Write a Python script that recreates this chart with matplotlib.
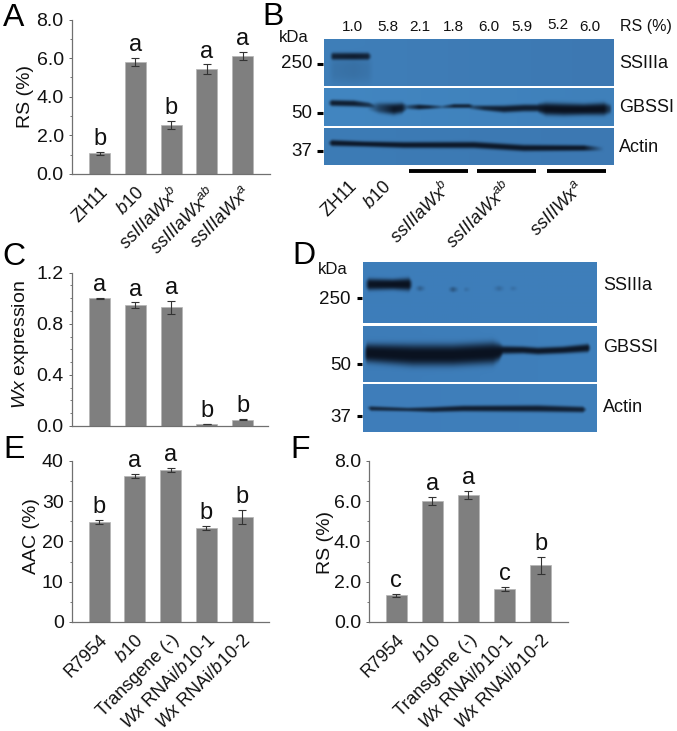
import numpy as np
import matplotlib
matplotlib.use("Agg")
import matplotlib.pyplot as plt
from matplotlib.colors import to_rgb

plt.rcParams['font.family'] = ['Liberation Sans', 'DejaVu Sans']
plt.rcParams['mathtext.fontset'] = 'custom'
plt.rcParams['mathtext.rm'] = 'Liberation Sans'
plt.rcParams['mathtext.it'] = 'Liberation Sans:italic'
plt.rcParams['mathtext.bf'] = 'Liberation Sans:bold'

W, H = 677, 731

# ---- bar chart data
a_labels = ['ZH11', r'$\mathit{b10}$', r'$\mathit{ssIIIaWx}^{\mathit{b}}$',
            r'$\mathit{ssIIIaWx}^{\mathit{ab}}$', r'$\mathit{ssIIIaWx}^{\mathit{a}}$']
a_values = [1.07, 5.80, 2.54, 5.42, 6.12]
a_errors = [0.08, 0.20, 0.22, 0.25, 0.22]
a_groups = ['b', 'a', 'b', 'a', 'a']

c_values = [1.00, 0.945, 0.93, 0.015, 0.05]
c_errors = [0.003, 0.022, 0.05, 0.003, 0.003]
c_groups = ['a', 'a', 'a', 'b', 'b']

ef_labels = ['R7954', r'$\mathit{b10}$', 'Transgene (-)',
             r'$\mathit{Wx}$ RNAi/$\mathit{b10}$-1', r'$\mathit{Wx}$ RNAi/$\mathit{b10}$-2']
e_values = [24.8, 36.2, 37.7, 23.3, 26.1]
e_errors = [0.6, 0.5, 0.6, 0.5, 1.7]
e_groups = ['b', 'a', 'a', 'b', 'b']

f_values = [1.32, 6.00, 6.28, 1.62, 2.82]
f_errors = [0.06, 0.18, 0.20, 0.10, 0.42]
f_groups = ['c', 'a', 'a', 'c', 'b']

# ---- blot annotation data
b_rs = ['1.0', '5.8', '2.1', '1.8', '6.0', '5.9', '5.2', '6.0']
b_lanes = ['ZH11', r'$\mathit{b10}$', r'$\mathit{ssIIIaWx}^{\mathit{b}}$',
           r'$\mathit{ssIIIaWx}^{\mathit{ab}}$', r'$\mathit{ssIIIWx}^{\mathit{a}}$']
blot_names = ['SSIIIa', 'GBSSI', 'Actin']
b_kda = ['250', '50', '37']

# ---- blot band profiles: x, centre, half-thickness, darkness
b1_bands = [([6, 9, 30, 44, 48], [17, 17, 17, 17, 17], [3, 3.5, 3.5, 3.5, 2], [0, .85, .9, .85, 0]),
            ([4, 10, 30, 44, 50], [30, 30, 30, 30, 30], [13, 13, 13, 13, 13], [0, .1, .13, .09, 0])]
b2_bands = [([4, 8, 30, 45, 52], [15, 15, 15.5, 17, 19], [2, 3, 3, 2.5, 2], [0, .9, .9, .7, .4]),
            ([44, 55, 70, 78, 84], [19, 20, 21, 20, 19], [3, 5, 5.5, 5, 2], [.1, .55, .95, .9, .2]),
            ([78, 95, 105, 118, 130, 145, 150], [19, 19, 19, 19, 18, 18, 19], [2, 2.5, 2, 1.5, 2, 2, 2],
             [.2, .9, .8, .3, .85, .85, .4]),
            ([146, 160, 180, 200, 216], [19, 20, 21, 20, 20], [2, 2.5, 3.5, 3.5, 3.5], [.4, .8, .9, .9, .9]),
            ([214, 222, 240, 260, 280, 287], [20, 21, 21.5, 21.5, 21, 21], [4, 6, 6, 5.5, 6, 4], [.9, 1, 1, 1, 1, .5])]
b3_bands = [([4, 8, 40, 80, 150, 200, 260, 280], [15, 15, 16, 17, 17, 20, 20, 21],
             [1.5, 3, 2.7, 3, 3.2, 3.2, 2.8, 2], [0, .95, .95, .95, .95, .95, .95, 0])]
d1_bands = [([2, 6, 30, 46, 50], [23, 23, 23, 23, 23], [4, 5.5, 5, 6, 3], [0, .98, 1, 1, 0]),
            ([52, 57, 63], [27, 27, 27], [2, 2.5, 2], [0, .3, 0]),
            ([85, 90, 96, 100, 103, 108], [28, 28, 28, 28, 28, 28], [2, 2.5, 2, 2, 2, 2], [0, .4, 0, 0, .15, 0]),
            ([130, 136, 142, 146, 150, 155], [27, 27, 27, 27, 27, 27], [2, 2.5, 2, 2, 2, 2], [0, .2, 0, 0, .15, 0])]
d2_bands = [([1, 4, 50, 90, 130, 136, 140], [28, 27, 29, 29, 27, 26, 24], [5, 9, 10.5, 10.5, 10.5, 8, 4], [0, 1, 1, 1, 1, 1, .95]),
            ([136, 160, 175, 200, 225, 228], [24, 24, 25, 24, 22, 22], [4, 3.5, 3.5, 3.5, 4, 2], [.95, .95, .95, .95, .95, 0])]
d3_bands = [([4, 8, 45, 70, 100, 175, 220, 224], [24, 25, 26, 26, 25, 25, 26, 26],
             [1, 2.2, 1.8, 2.5, 2.8, 3.2, 2.8, 1], [0, .8, .75, .85, .9, .9, .85, 0])]


def fig_axes(left, top, right, bottom):
    return fig.add_axes([left / W, 1 - bottom / H, (right - left) / W, (bottom - top) / H])


def bar_panel(left, top, right, bottom, first, step, values, errors, groups, ymax, major, minor, fmt,
              ylabel, ylab_x, ylab_y, labels=None):
    ax = fig_axes(left, top, right, bottom)
    x = np.arange(len(values))
    ax.bar(x, values, width=21 / step, color='#7f7f7f', edgecolor='#b4b4b4', linewidth=0.5, zorder=2)
    ax.errorbar(x, values, yerr=errors, fmt='none', ecolor='#333333', elinewidth=0.8, capsize=3.2,
                capthick=0.8, zorder=3)
    ax.set_xlim(-(first - left) / step, (right - first) / step)
    ax.set_ylim(0, ymax)
    for s in ['top', 'right']:
        ax.spines[s].set_visible(False)
    for s in ['left', 'bottom']:
        ax.spines[s].set_color('#707070')
        ax.spines[s].set_linewidth(0.9)
    ax.set_yticks(np.arange(0, ymax + major / 2, major))
    ax.set_yticks(np.arange(0, ymax + minor / 2, minor), minor=True)
    ax.set_yticklabels([fmt % v for v in np.arange(0, ymax + major / 2, major)], fontsize=14, color='#111111')
    ax.tick_params(axis='y', which='major', length=2.5, width=0.7, color='#666666', pad=3.5)
    ax.tick_params(axis='y', which='minor', length=1.5, width=0.7, color='#777777')
    if labels is None:
        ax.set_xticks([])
    else:
        ax.set_xticks(x)
        ax.set_xticklabels(labels, rotation=45, ha='right', rotation_mode='anchor', fontsize=13,
                           color='#111111')
        ax.tick_params(axis='x', length=0, pad=7)
    for i, (v, e, g) in enumerate(zip(values, errors, groups)):
        ax.annotate(g, (i, v + e), xytext=(0, 5), textcoords='offset points', ha='center', va='baseline',
                    fontsize=17, color='#111111', annotation_clip=False)
    over.text(ylab_x, ylab_y, ylabel, rotation=90, ha='center', va='center', fontsize=14, color='#111111')
    return ax


def smooth(img, n=2):
    kernel = np.ones(2 * n + 1) / (2 * n + 1)
    pad = np.pad(img, n, mode='edge')
    pad = np.apply_along_axis(lambda m: np.convolve(m, kernel, mode='same'), 0, pad)
    pad = np.apply_along_axis(lambda m: np.convolve(m, kernel, mode='same'), 1, pad)
    return pad[n:-n, n:-n]


def blot(left, top, right, bottom, bands, base, shade):
    ax = fig_axes(left, top, right, bottom)
    w, h = int(right - left) * 2, int(bottom - top) * 2
    xs = (np.arange(w) + .5) / 2
    ys = (np.arange(h) + .5) / 2
    density = np.zeros((h, w))
    for bx, bc, bh, bd in bands:
        c = np.interp(xs, bx, bc)
        t = np.interp(xs, bx, bh)
        d = np.interp(xs, bx, bd, left=0, right=0)
        density = np.maximum(density, d * np.exp(-np.abs((ys[:, None] - c) / t) ** 3))
    density = smooth(density)
    b0 = np.array(to_rgb(base))
    b1 = np.array(to_rgb(shade))
    g = (xs / xs.max())[None, :, None]
    bg = b0 * (1 - g) + b1 * g
    dark = np.array(to_rgb('#0a1220'))
    img = bg * (1 - density[..., None]) + dark * density[..., None]
    ax.imshow(img, extent=(0, right - left, bottom - top, 0), aspect='auto', interpolation='bilinear')
    ax.axis('off')


fig = plt.figure(figsize=(W / 100, H / 100), dpi=100)
over = fig.add_axes([0, 0, 1, 1], zorder=10)
over.set_xlim(0, W)
over.set_ylim(H, 0)
over.axis('off')
over.patch.set_alpha(0)

bar_panel(72, 19.5, 270, 174, 99.7, 35.7, a_values, a_errors, a_groups, 8, 2, 1, '%.1f', 'RS (%)', 25, 96, a_labels)
bar_panel(72, 272.7, 268, 426, 99.7, 35.7, c_values, c_errors, c_groups, 1.2, 0.4, 0.1, '%.1f',
          r'$\mathit{Wx}$ expression', 21, 345)
bar_panel(72, 460.7, 269, 622, 99, 35.8, e_values, e_errors, e_groups, 40, 10, 5, '%d', 'AAC (%)', 31, 536, ef_labels)
bar_panel(369.3, 460.7, 567.7, 622, 396, 36.2, f_values, f_errors, f_groups, 8, 2, 1, '%.1f', 'RS (%)', 326, 543, ef_labels)

# blots
blot(324, 39.3, 614, 86, b1_bands, '#3f7fb9', '#3d78b2')
blot(324, 88, 614, 126, b2_bands, '#4286c1', '#3f80ba')
blot(324, 128, 614, 165, b3_bands, '#3d7cb6', '#3c78b2')
blot(363, 262, 597, 323.3, d1_bands, '#3d7dba', '#3f7fba')
blot(363, 325.7, 597, 381.7, d2_bands, '#3d7cb8', '#3f80bc')
blot(363, 383.7, 597, 432, d3_bands, '#3e7dba', '#4080bb')

TXT = '#111111'
for x, y, s in zip([352, 388, 420, 453, 489, 522, 558, 590], [27, 27, 27, 27, 27, 27, 25, 27], b_rs):
    over.text(x, y, s, ha='center', va='center', fontsize=11, color=TXT)
over.text(620, 26, 'RS (%)', ha='left', va='center', fontsize=11.5, color=TXT)
over.text(279, 37, 'kDa', ha='left', va='center', fontsize=12, color=TXT)
for y, s in zip([64, 113, 151], b_kda):
    over.text(312, y, s, ha='right', va='center', fontsize=13.5, color=TXT)
    over.plot([317, 323], [y, y], color='black', lw=2.2, solid_capstyle='butt')
for y, s in zip([63, 107, 148], blot_names):
    over.text(619, y, s, ha='left', va='center', fontsize=13, color=TXT)
for x0, x1 in [(409, 468), (477, 536), (547, 606)]:
    over.plot([x0, x1], [171, 171], color='black', lw=2.8, solid_capstyle='butt')
for x, s in zip([348, 383, 442, 503, 575], b_lanes):
    over.text(x, 178, s, rotation=45, ha='right', va='top', rotation_mode='anchor', fontsize=13, color=TXT)

over.text(318, 270, 'kDa', ha='left', va='center', fontsize=12, color=TXT)
for y, s in zip([299, 365, 417], b_kda):
    over.text(351, y, s, ha='right', va='center', fontsize=13.5, color=TXT)
    over.plot([357, 362], [y - 1, y - 1], color='black', lw=2.2, solid_capstyle='butt')
for y, s in zip([286, 348, 408], blot_names):
    over.text(603, y, s, ha='left', va='center', fontsize=13, color=TXT)

# panel letters
for x, y, s in [(3, 26, 'A'), (262, 25, 'B'), (2, 265, 'C'), (292, 264, 'D'), (3, 458, 'E'), (290, 458, 'F')]:
    over.text(x, y, s, ha='left', va='baseline', fontsize=23, color='black')

fig.savefig('out.png', dpi=100)
